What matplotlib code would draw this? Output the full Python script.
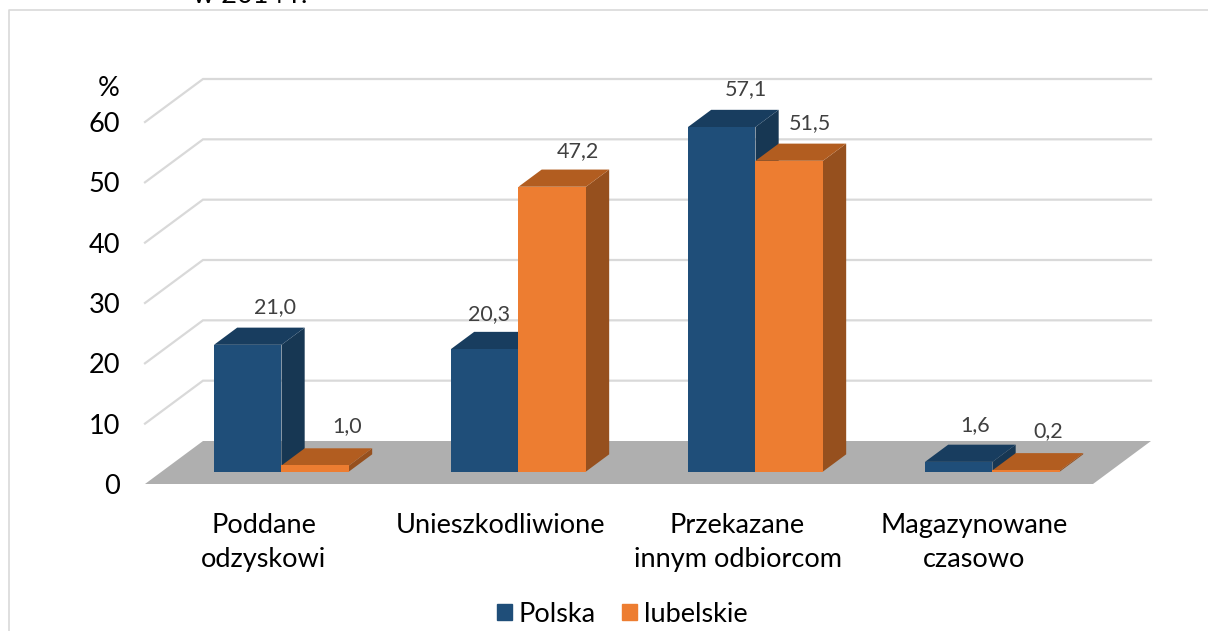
import matplotlib
matplotlib.use('Agg')
import matplotlib.pyplot as plt
from matplotlib.lines import Line2D
from matplotlib.patches import Patch

plt.rcParams['font.family'] = ['Lato', 'DejaVu Sans']

categories = ['Poddane\nodzyskowi', 'Unieszkodliwione',
              'Przekazane\ninnym odbiorcom', 'Magazynowane\nczasowo']
polska = [21.0, 20.3, 57.1, 1.6]
lubelskie = [1.0, 47.2, 51.5, 0.2]
y_ticks = [0, 10, 20, 30, 40, 50, 60]

# label nudges in pixels, the labels were placed by hand in the original
polska_nudge = [(27, -38), (4, -35), (24, -38), (16, -37)]
lubelskie_nudge = [(32, -39), (26, -36), (21, -38), (22, -39)]

W, H = 1208, 631
BLUE = ('#1F4E79', '#173753', '#183D5F')
ORANGE = ('#ED7D31', '#96501E', '#B25D20')
GRID = '#D9D9D9'

fig = plt.figure(figsize=(W / 100, H / 100), dpi=100)
# axes = front edge of the floor, up to the 60 gridline
ax = fig.add_axes([145 / W, 1 - 484 / H, 948 / W, 362 / H])
ax.set_xlim(0, 4)
ax.set_ylim(0, 60)
ax.patch.set_visible(False)
for s in ax.spines.values():
    s.set_visible(False)

# depth of the 3d box
depth_x = 58 / 237
depth_y = 43 / (362 / 60)
bar_w = 67.5 / 237
d0, d1 = 0.29, 0.69


def project(x, y, d):
    return x + d * depth_x, y + d * depth_y


for v in y_ticks[1:]:
    bx, by = project(0, v, 1)
    ax.plot([0, bx, 4 + depth_x], [v, by, by], color=GRID, lw=1.6,
            clip_on=False, zorder=1, solid_joinstyle='miter')

ax.fill([0, 4, 4 + depth_x, depth_x], [0, 0, depth_y, depth_y],
        color='#AFAFAF', lw=0, clip_on=False, zorder=2)


def draw_bar(x0, v, colors, z):
    x1 = x0 + bar_w
    base = d0 * depth_y
    top = base + v
    dx = (d1 - d0) * depth_x
    dy = (d1 - d0) * depth_y
    ax.fill([x1, x1 + dx, x1 + dx, x1], [base, base + dy, top + dy, top],
            color=colors[1], lw=0, zorder=z, clip_on=False)
    ax.fill([x0, x1, x1 + dx, x0 + dx], [top, top, top + dy, top + dy],
            color=colors[2], lw=0, zorder=z + 0.1, clip_on=False)
    ax.bar(x0, v, bar_w, bottom=base, align='edge', color=colors[0], lw=0,
           zorder=z + 0.2, clip_on=False)


def draw_label(x0, v, nudge):
    ax.annotate(f'{v:.1f}'.replace('.', ','),
                (x0 + bar_w / 2, d0 * depth_y + v),
                xytext=(nudge[0], -nudge[1]), textcoords='offset pixels',
                ha='center', va='center', fontsize=15.5, color='#404040',
                annotation_clip=False, zorder=20)


for i in range(len(categories)):
    left = i + 0.5 - bar_w + (d0 + 0.02) * depth_x
    draw_bar(left, polska[i], BLUE, 5)
    draw_bar(left + bar_w, lubelskie[i], ORANGE, 6)
    draw_label(left, polska[i], polska_nudge[i])
    draw_label(left + bar_w, lubelskie[i], lubelskie_nudge[i])

ax.set_yticks(y_ticks)
ax.set_yticklabels([str(v) for v in y_ticks], fontsize=19.5, color='black', va='center_baseline')
ax.tick_params(axis='y', length=0, pad=18)
ax.set_xticks([i + 0.5 for i in range(len(categories))])
ax.set_xticklabels(categories, fontsize=19.5, color='black', linespacing=1.46)
ax.tick_params(axis='x', length=0, pad=20.7)

fig.text(120 / W, 1 - 89 / H, '%', ha='right', va='center', fontsize=19.5)
fig.text(250 / W, 1 - 3 / H, 'w 2014 r.', ha='center', va='baseline', fontsize=19.5)

# chart frame, runs off the right and bottom of the crop
fig.add_artist(Line2D([9 / W, 9 / W, 1], [0, 1 - 10 / H, 1 - 10 / H], color=GRID, lw=1.2))

handles = [Patch(color=BLUE[0], label='Polska'), Patch(color=ORANGE[0], label='lubelskie')]
fig.legend(handles=handles, loc='center', bbox_to_anchor=(622 / W, 1 - 614 / H), ncol=2,
           frameon=False, fontsize=19.5, handlelength=0.55, handleheight=0.55,
           handletextpad=0.26, columnspacing=0.95, borderpad=0)

fig.savefig('out.png', dpi=100)
